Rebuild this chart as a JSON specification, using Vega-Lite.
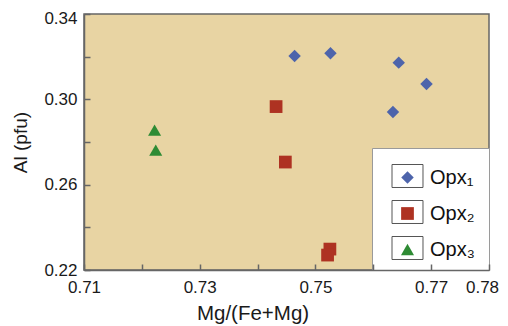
{
  "$schema": "https://vega.github.io/schema/vega-lite/v6.json",
  "width": 405,
  "height": 256,
  "autosize": {"type": "none"},
  "padding": {"left": 84, "top": 14, "right": 19, "bottom": 56},
  "background": "white",
  "config": {
    "font": "Liberation Sans",
    "view": {"fill": "#e8d4a3", "stroke": "#666666", "strokeWidth": 1.5},
    "axis": {
      "grid": false,
      "domainColor": "#666666",
      "domainWidth": 1.5,
      "tickColor": "#666666",
      "tickWidth": 1.5,
      "labelColor": "#1a1a1a",
      "titleColor": "#1a1a1a",
      "titleFontWeight": "normal",
      "labelFontSize": 17
    }
  },
  "data": {
    "values": [
      {"series": "Opx₁", "mg": 0.7464, "al": 0.3203},
      {"series": "Opx₁", "mg": 0.7526, "al": 0.3216},
      {"series": "Opx₁", "mg": 0.7644, "al": 0.3172},
      {"series": "Opx₁", "mg": 0.7692, "al": 0.3072},
      {"series": "Opx₁", "mg": 0.7634, "al": 0.2941},
      {"series": "Opx₂", "mg": 0.7432, "al": 0.2966},
      {"series": "Opx₂", "mg": 0.7448, "al": 0.2706},
      {"series": "Opx₂", "mg": 0.7525, "al": 0.2298},
      {"series": "Opx₂", "mg": 0.7521, "al": 0.2270},
      {"series": "Opx₃", "mg": 0.7222, "al": 0.2856},
      {"series": "Opx₃", "mg": 0.7224, "al": 0.2762}
    ]
  },
  "encoding": {
    "x": {
      "field": "mg",
      "type": "quantitative",
      "scale": {"domain": [0.71, 0.78], "nice": false, "zero": false},
      "axis": {
        "title": "Mg/(Fe+Mg)",
        "titleFontSize": 20.5,
        "titleX": 168.5,
        "titlePadding": 8,
        "values": [0.71, 0.72, 0.73, 0.74, 0.75, 0.76, 0.77, 0.78],
        "format": ".2f",
        "labelExpr": "(datum.label == '0.72' || datum.label == '0.74' || datum.label == '0.76') ? '' : datum.label",
        "labelFlush": false,
        "labelOverlap": false,
        "tickSize": -6,
        "labelPadding": 15,
        "labelOffset": {"condition": {"test": "datum.value > 0.775", "value": -7}, "value": 0},
        "zindex": 5
      }
    },
    "y": {
      "field": "al",
      "type": "quantitative",
      "scale": {"domain": [0.22, 0.34], "nice": false, "zero": false},
      "axis": {
        "title": "Al (pfu)",
        "titleFontSize": 19,
        "titlePadding": 13,
        "values": [0.22, 0.24, 0.26, 0.28, 0.30, 0.32, 0.34],
        "format": ".2f",
        "labelExpr": "(datum.label == '0.24' || datum.label == '0.28' || datum.label == '0.32') ? '' : datum.label",
        "labelOverlap": false,
        "tickSize": -6,
        "labelPadding": 13,
        "labelOffset": {"condition": {"test": "datum.value > 0.335", "value": 4}, "value": 0},
        "zindex": 5
      }
    }
  },
  "layer": [
    {
      "mark": {"type": "point", "filled": false, "opacity": 0, "color": "#555555"},
      "encoding": {
        "shape": {
          "field": "series",
          "type": "nominal",
          "scale": {
            "domain": ["Opx₁", "Opx₂", "Opx₃"],
            "range": ["M-1.722,-1.444H1.722V1.111H-1.722Z", "M-1.722,-1.444H1.722V1.111H-1.722Z", "M-1.722,-1.444H1.722V1.111H-1.722Z"]
          },
          "legend": {
            "orient": "none",
            "legendX": 288,
            "legendY": 134,
            "title": " ",
            "titleFontSize": 1,
            "titlePadding": 10,
            "padding": 8.5,
            "fillColor": "white",
            "strokeColor": "#9a9a9a",
            "symbolSize": 324,
            "symbolStrokeColor": "#555555",
            "symbolStrokeWidth": 1,
            "symbolFillColor": "transparent",
            "symbolOpacity": 1,
            "symbolOffset": 17,
            "labelOffset": 12.5,
            "labelFontSize": 20,
            "labelColor": "#111111",
            "labelExpr": "datum.label + ' \u200b'",
            "rowPadding": 9,
            "zindex": 1
          }
        }
      }
    },
    {
      "mark": {"type": "point", "filled": true, "opacity": 1},
      "encoding": {
        "color": {
          "field": "series",
          "type": "nominal",
          "scale": {"domain": ["Opx₁", "Opx₂", "Opx₃"], "range": ["#4d64ab", "#ae3222", "#2e8b34"]},
          "legend": {
            "orient": "none",
            "legendX": 288,
            "legendY": 134,
            "title": " ",
            "titleFontSize": 1,
            "titlePadding": 10,
            "padding": 8.5,
            "symbolSize": 110,
            "symbolStrokeWidth": 0,
            "symbolOpacity": 1,
            "symbolOffset": 17,
            "labelOffset": 12.5,
            "labelFontSize": 20,
            "labelOpacity": 0,
            "labelExpr": "datum.label + ' \u200b'",
            "rowPadding": 16,
            "zindex": 2
          }
        },
        "shape": {
          "field": "series",
          "type": "nominal",
          "scale": {"domain": ["Opx₁", "Opx₂", "Opx₃"], "range": ["diamond", "square", "triangle-up"]},
          "legend": {
            "orient": "none",
            "legendX": 288,
            "legendY": 134,
            "title": " ",
            "titleFontSize": 1,
            "titlePadding": 10,
            "padding": 8.5,
            "symbolSize": 110,
            "symbolStrokeWidth": 0,
            "symbolOpacity": 1,
            "symbolOffset": 17,
            "labelOffset": 12.5,
            "labelFontSize": 20,
            "labelOpacity": 0,
            "labelExpr": "datum.label + ' \u200b'",
            "rowPadding": 16,
            "zindex": 2
          }
        },
        "size": {
          "field": "series",
          "type": "nominal",
          "scale": {"domain": ["Opx₁", "Opx₂", "Opx₃"], "range": [155, 170, 130]},
          "legend": null
        }
      }
    }
  ],
  "resolve": {"scale": {"shape": "independent", "color": "independent", "size": "independent"}}
}
